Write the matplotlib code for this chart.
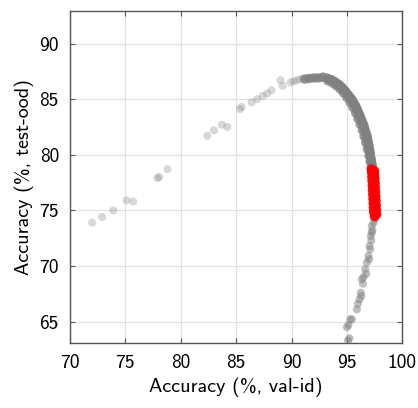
import matplotlib
matplotlib.use("Agg")
import matplotlib.pyplot as plt

# sparse gray points (val-id accuracy, test-ood accuracy)
sparse_x = [72.0, 72.9, 73.9, 75.1, 75.7, 77.9, 78.05, 78.8, 82.4, 83.0, 83.7, 84.2,
            85.35, 85.5, 86.4, 86.9, 87.4, 87.8, 88.2, 89.0, 89.2, 89.9, 90.2, 90.5,
            90.8, 91.1, 91.4, 91.7, 92.0, 92.3, 92.6, 92.9]
sparse_y = [73.9, 74.4, 75.0, 75.9, 75.8, 77.9, 78.0, 78.7, 81.7, 82.2, 82.7, 82.5,
            84.1, 84.3, 84.7, 85.0, 85.3, 85.5, 85.8, 86.7, 86.2, 86.5, 86.6, 86.7,
            86.8, 86.85, 86.9, 86.9, 86.9, 86.95, 86.95, 87.1]

# dense gray arc
dense_x = [91.2, 91.6, 92.0, 92.4, 92.8, 93.2,
           93.4, 93.6, 93.8, 94.0, 94.15, 94.3, 94.45, 94.6, 94.75, 94.9, 95.05, 95.2,
           95.35, 95.5, 95.6, 95.75, 95.85, 95.95, 96.05, 96.15, 96.25, 96.35, 96.45,
           96.55, 96.6, 96.7, 96.8, 96.85, 96.9, 96.95, 97.0, 97.05, 97.1, 97.12,
           97.15, 97.2, 97.25, 97.3, 97.3,
           93.3, 93.7, 94.05, 94.4, 94.7, 95.0, 95.3, 95.55, 95.8, 96.0, 96.2, 96.4,
           96.55, 96.7, 96.85, 97.0, 97.1, 97.2,
           93.5, 93.9, 94.25, 94.55, 94.85, 95.15, 95.45, 95.7, 95.9, 96.1, 96.3, 96.5,
           96.65, 96.78, 96.92, 97.05, 97.18]
dense_y = [86.8, 86.85, 86.9, 86.9, 86.95, 86.9,
           86.8, 86.75, 86.6, 86.5, 86.35, 86.3, 86.15, 86.0, 85.8, 85.65, 85.45, 85.25,
           85.1, 84.85, 84.7, 84.45, 84.25, 84.05, 83.8, 83.6, 83.35, 83.1, 82.85,
           82.6, 82.35, 82.1, 81.8, 81.55, 81.3, 81.05, 80.8, 80.5, 80.25, 80.0,
           79.75, 79.5, 79.25, 79.0, 78.8,
           86.65, 86.45, 86.2, 85.9, 85.55, 85.15, 84.7, 84.25, 83.75, 83.25, 82.75, 82.2,
           81.65, 81.1, 80.5, 79.9, 79.4, 78.9,
           86.75, 86.55, 86.3, 86.05, 85.75, 85.35, 84.95, 84.5, 84.0, 83.5, 83.0, 82.5,
           81.95, 81.4, 80.8, 80.2, 79.6]

# gray points below the red region
low_x = [97.55, 97.4, 97.25, 97.3, 97.25, 97.16, 97.2, 97.04, 97.1, 96.95, 97.0,
         96.8, 96.65, 96.75, 96.5, 96.35, 96.45, 96.26, 96.3, 96.14, 96.0, 95.9,
         95.45, 95.3, 95.14, 95.0, 95.23, 95.1]
low_y = [74.2, 73.9, 73.6, 73.2, 73.0, 72.7, 72.3, 71.8, 71.5, 70.9, 70.6,
         70.3, 69.7, 69.3, 69.0, 68.8, 68.4, 67.6, 67.3, 67.0, 66.6, 66.1,
         65.2, 65.2, 64.7, 64.5, 63.5, 63.3]

# red points (selected region)
red_x = [97.22, 97.48, 97.24, 97.50, 97.26, 97.52, 97.28, 97.54, 97.30, 97.56,
         97.32, 97.58, 97.34, 97.60, 97.36, 97.62, 97.38, 97.64, 97.40, 97.66,
         97.42, 97.68, 97.50]
red_y = [78.70, 78.55, 78.40, 78.20, 78.00, 77.85, 77.65, 77.45, 77.25, 77.05,
         76.85, 76.65, 76.45, 76.25, 76.05, 75.85, 75.65, 75.45, 75.25, 75.05,
         74.85, 74.65, 74.45]

xticks = [70, 75, 80, 85, 90, 95, 100]
yticks = [65, 70, 75, 80, 85, 90]

plt.rcParams['font.family'] = ['cmss10', 'DejaVu Sans']
plt.rcParams['axes.unicode_minus'] = False

fig = plt.figure(figsize=(4.18, 4.08), dpi=100)
ax = fig.add_axes([0.1675, 0.160, 0.7949, 0.8138])

ax.scatter(sparse_x, sparse_y, s=34, color='#808080', alpha=0.3, edgecolors='none', zorder=3)
ax.scatter(low_x, low_y, s=34, color='#808080', alpha=0.5, edgecolors='none', zorder=3)
ax.scatter(dense_x, dense_y, s=46, color='#808080', alpha=0.8, edgecolors='none', zorder=3)
ax.scatter(red_x, red_y, s=48, color='#ff0000', alpha=0.95, edgecolors='none', zorder=4)

ax.set_xlim(70, 100)
ax.set_ylim(63.1, 92.95)
ax.set_xticks(xticks)
ax.set_yticks(yticks)
ax.grid(True, color='#e2e2e2', linewidth=0.9, zorder=0)
ax.set_axisbelow(True)
ax.tick_params(direction='in', top=True, right=True, length=3.5, width=0.8,
               color='#555555', labelsize=14, pad=8)
for sp in ax.spines.values():
    sp.set_color('#555555')
    sp.set_linewidth(1.0)

ax.set_xlabel('Accuracy (%, val-id)', fontsize=14.5, labelpad=4)
ax.set_ylabel('Accuracy (%, test-ood)', fontsize=14.5, labelpad=4)

fig.savefig('out.png', dpi=100)
